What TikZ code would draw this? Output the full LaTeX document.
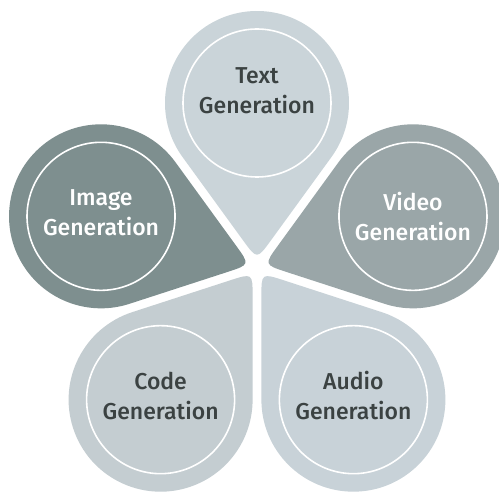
\documentclass[tikz,border=0pt]{standalone}
\usepackage{fontspec}
\setmainfont{Fira Sans}[UprightFont=* Medium]
\usetikzlibrary{calc}
\definecolor{ptext}{HTML}{CAD4D9}
\definecolor{pimage}{HTML}{7E8F8F}
\definecolor{pvideo}{HTML}{9AA6A8}
\definecolor{pcode}{HTML}{C4CDD1}
\definecolor{paudio}{HTML}{C8D2D8}
\definecolor{darktxt}{HTML}{3B4242}
\tikzset{
  ringline/.style={draw=white, line width=1.6pt},
  petallabel/.style={align=center, font=\fontsize{23}{30}\selectfont},
}
\newcommand\mypetal[6]{%
  \begin{scope}[shift={(O)}, rotate=#1]
    \fill[#2] ($(\T,0)+(-36:24)$) -- ($(\D,0)+(-126:\R)$)
      arc[start angle=-126, end angle=126, radius=\R]
      -- ($(\T,0)+(36:24)$) .. controls (\T,0) .. ($(\T,0)+(-36:24)$) -- cycle;
    \draw[ringline] (\D,0) circle[radius=74];
    \node[petallabel, text=#5, yshift=#6] (#3) at (\D,0) {#4};
  \end{scope}}
\begin{document}
\begin{tikzpicture}[x=1pt,y=1pt]
\useasboundingbox (0,0) rectangle (499,496);
\fill[white] (0,0) rectangle (499,496);
\clip (0,0) rectangle (499,496);
\coordinate (O) at (257,229);
\def\D{164}
\def\R{92}
\pgfmathsetmacro\T{\D-\R/sin(36)}
\mypetal{90}{ptext}{textgen}{Text\\Generation}{darktxt}{12pt}
\mypetal{162}{pimage}{imagegen}{Image\\Generation}{white}{4pt}
\mypetal{18}{pvideo}{videogen}{Video\\Generation}{white}{0pt}
\mypetal{234}{pcode}{codegen}{Code\\Generation}{darktxt}{4pt}
\mypetal{306}{paudio}{audiogen}{Audio\\Generation}{darktxt}{4pt}
\end{tikzpicture}
\end{document}
